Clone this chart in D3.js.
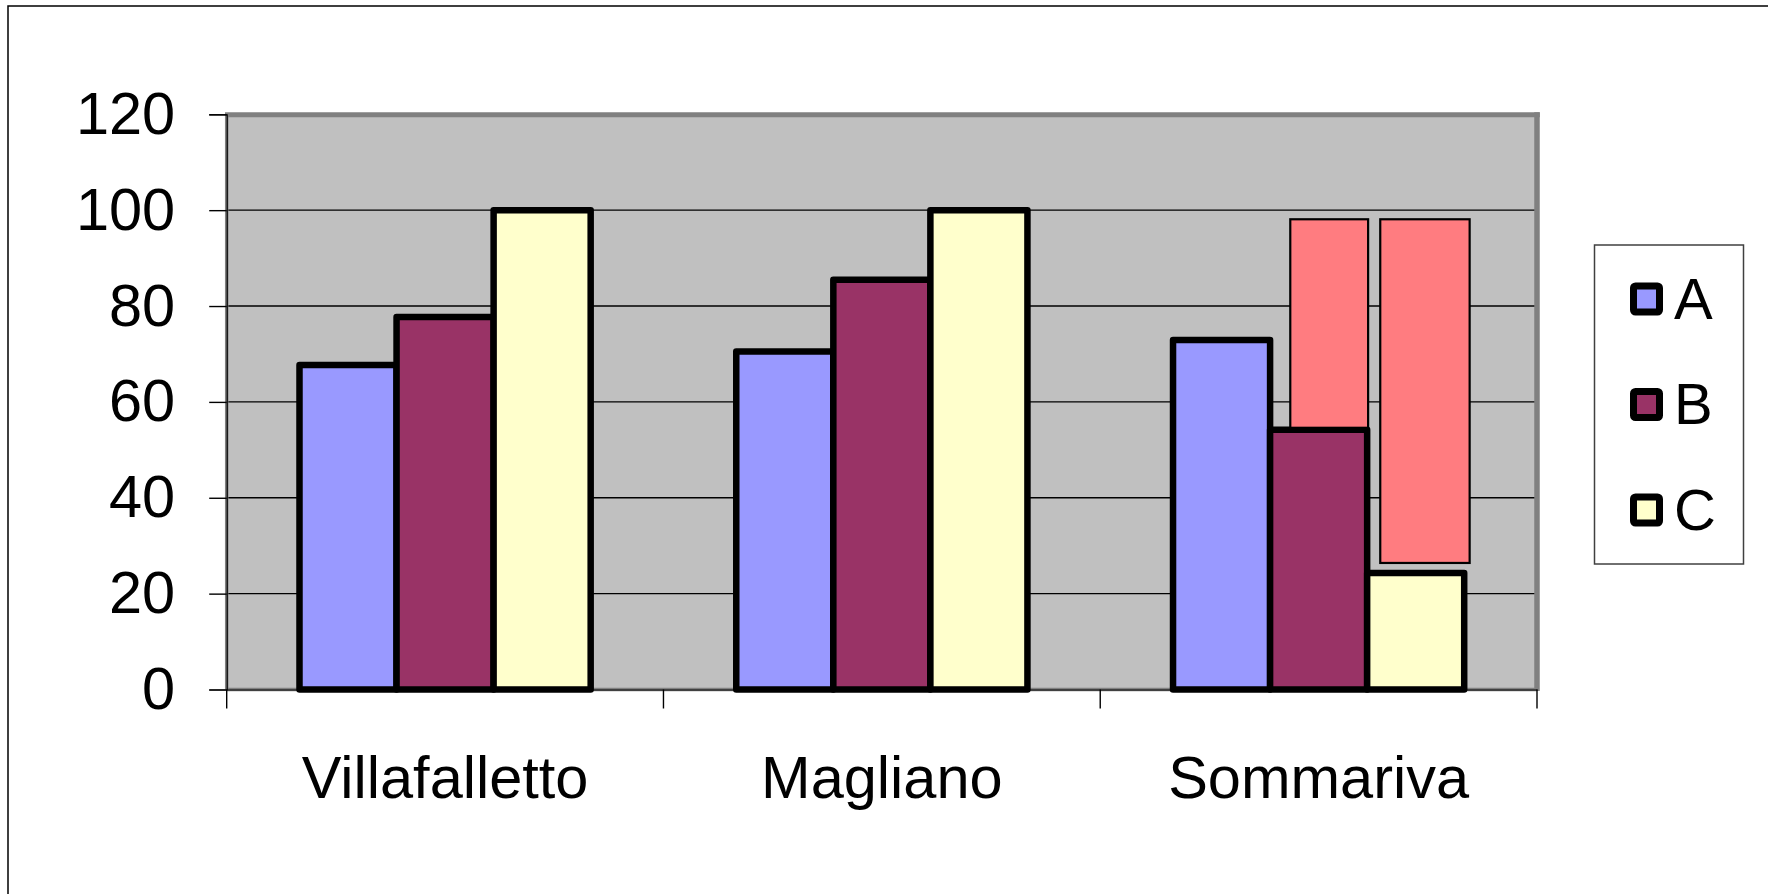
<!DOCTYPE html>
<html>
<head>
<meta charset="utf-8">
<script src="https://cdn.jsdelivr.net/npm/d3@7"></script>
<style>
  body { margin: 0; background: #fff; }
  svg { display: block; font-family: "Liberation Sans", Arial, sans-serif; }
</style>
</head>
<body>
<div id="chart"></div>
<script>
// chart data
var categories = ["Villafalletto", "Magliano", "Sommariva"];
var seriesNames = ["A", "B", "C"];
var valuesA = [67.7, 70.5, 72.9];
var valuesB = [77.7, 85.5, 54.2];
var valuesC = [100, 100, 24.3];
var yTicks = [0, 20, 40, 60, 80, 100, 120];

// highlighted ranges drawn over the Sommariva group
var boxCategory = ["Sommariva", "Sommariva"];
var boxSeries = ["B", "C"];
var boxLow = [54.6, 26.4];
var boxHigh = [98.1, 98.1];

var colors = { A: "#9999FF", B: "#993366", C: "#FFFFCC" };

// page size and plot box
var W = 1768, H = 894;
var plot = { left: 226.7, right: 1537, top: 114.3, bottom: 689.5 };

var svg = d3.select("#chart").append("svg")
    .attr("width", W)
    .attr("height", H);

// outer chart frame (right and bottom edges fall outside the picture)
svg.append("rect")
   .attr("x", 8).attr("y", 6)
   .attr("width", W + 20).attr("height", H + 20)
   .attr("fill", "#fff")
   .attr("stroke", "#000")
   .attr("stroke-width", 1.5);

// scales
var x0 = d3.scaleBand().domain(categories).range([plot.left, plot.right]);
var bw = x0.bandwidth();
var x1 = d3.scaleBand().domain(seriesNames).range([bw / 6, bw * 5 / 6]);
var y = d3.scaleLinear().domain([0, 120]).range([plot.bottom, plot.top]);

// plot area background
svg.append("rect")
   .attr("x", plot.left).attr("y", plot.top)
   .attr("width", plot.right - plot.left)
   .attr("height", plot.bottom - plot.top)
   .attr("fill", "#C0C0C0");

// gridlines
svg.append("g")
   .selectAll("line")
   .data(yTicks.filter(function(d) { return d > 0 && d < 120; }))
   .enter().append("line")
   .attr("x1", plot.left).attr("x2", plot.right)
   .attr("y1", function(d) { return y(d); })
   .attr("y2", function(d) { return y(d); })
   .attr("stroke", "#000")
   .attr("stroke-width", 1.4);

// plot border: thin gray on left/bottom, heavier on top/right
svg.append("line")
   .attr("x1", plot.left).attr("x2", plot.left)
   .attr("y1", plot.top).attr("y2", plot.bottom)
   .attr("stroke", "#808080").attr("stroke-width", 3.5);
svg.append("line")
   .attr("x1", plot.left).attr("x2", plot.right)
   .attr("y1", plot.bottom).attr("y2", plot.bottom)
   .attr("stroke", "#808080").attr("stroke-width", 3.5);
svg.append("line")
   .attr("x1", plot.left - 1.7).attr("x2", plot.right + 2.8)
   .attr("y1", plot.top + 0.4).attr("y2", plot.top + 0.4)
   .attr("stroke", "#808080").attr("stroke-width", 5);
svg.append("line")
   .attr("x1", plot.right).attr("x2", plot.right)
   .attr("y1", plot.top - 2).attr("y2", plot.bottom + 1.5)
   .attr("stroke", "#808080").attr("stroke-width", 5.5);

// y axis
var yAxis = svg.append("g")
   .attr("transform", "translate(" + plot.left + ",0)")
   .call(d3.axisLeft(y).tickValues(yTicks).tickSize(17.5).tickPadding(34));
yAxis.select(".domain").attr("stroke", "#000").attr("stroke-width", 1.2);
yAxis.selectAll(".tick line").attr("stroke", "#000").attr("stroke-width", 1.4);
yAxis.selectAll("text")
     .attr("font-size", 59.5)
     .attr("font-family", "'Liberation Sans', Arial, sans-serif")
     .attr("fill", "#000");

// x axis: labels at band centers, ticks at band edges
var xAxis = svg.append("g")
   .attr("transform", "translate(0," + plot.bottom + ")")
   .call(d3.axisBottom(x0).tickSize(0).tickPadding(66));
xAxis.select(".domain").attr("stroke", "#000").attr("stroke-width", 1.2);
xAxis.selectAll("text")
     .attr("font-size", 59.5)
     .attr("font-family", "'Liberation Sans', Arial, sans-serif")
     .attr("fill", "#000");

var edges = categories.map(function(c) { return x0(c); }).concat([x0.range()[1]]);
svg.append("g")
   .selectAll("line")
   .data(edges)
   .enter().append("line")
   .attr("x1", function(d) { return d; })
   .attr("x2", function(d) { return d; })
   .attr("y1", plot.bottom)
   .attr("y2", plot.bottom + 19)
   .attr("stroke", "#000")
   .attr("stroke-width", 1.4);

// bars
var bars = [];
categories.forEach(function(c, i) {
  bars.push({ cat: c, key: "A", value: valuesA[i] });
  bars.push({ cat: c, key: "B", value: valuesB[i] });
  bars.push({ cat: c, key: "C", value: valuesC[i] });
});

svg.append("g")
   .selectAll("rect")
   .data(bars)
   .enter().append("rect")
   .attr("x", function(d) { return x0(d.cat) + x1(d.key); })
   .attr("width", x1.bandwidth())
   .attr("y", function(d) { return y(d.value); })
   .attr("height", function(d) { return y(0) - y(d.value); })
   .attr("fill", function(d) { return colors[d.key]; })
   .attr("stroke", "#000")
   .attr("stroke-width", 6.5)
   .attr("stroke-linejoin", "round");

// red overlay boxes (inset within / past their bar, as drawn on the original)
var boxInset = { B: [0.208, 1.01], C: [0.135, 1.056] };
var boxes = boxSeries.map(function(s, i) {
  return { cat: boxCategory[i], key: s, lo: boxLow[i], hi: boxHigh[i] };
});
svg.append("g")
   .selectAll("rect")
   .data(boxes)
   .enter().append("rect")
   .attr("x", function(d) { return x0(d.cat) + x1(d.key) + boxInset[d.key][0] * x1.bandwidth(); })
   .attr("width", function(d) { return (boxInset[d.key][1] - boxInset[d.key][0]) * x1.bandwidth(); })
   .attr("y", function(d) { return y(d.hi); })
   .attr("height", function(d) { return y(d.lo) - y(d.hi); })
   .attr("fill", "#FF7C80")
   .attr("stroke", "#000")
   .attr("stroke-width", 2.2);

// legend
var legend = svg.append("g");
legend.append("rect")
   .attr("x", 1594.5).attr("y", 245)
   .attr("width", 149).attr("height", 319)
   .attr("fill", "#fff")
   .attr("stroke", "#404040")
   .attr("stroke-width", 1.5);

var rowY = d3.scalePoint().domain(seriesNames).range([299, 510]);
var items = legend.selectAll(".item")
   .data(seriesNames)
   .enter().append("g")
   .attr("class", "item")
   .attr("transform", function(d) { return "translate(0," + rowY(d) + ")"; });
items.append("rect")
   .attr("x", 1633.5).attr("y", -13)
   .attr("width", 26).attr("height", 26)
   .attr("rx", 2)
   .attr("fill", function(d) { return colors[d]; })
   .attr("stroke", "#000")
   .attr("stroke-width", 7);
items.append("text")
   .attr("x", 1674)
   .attr("y", 19.5)
   .attr("font-size", 58)
   .attr("fill", "#000")
   .text(function(d) { return d; });
</script>
</body>
</html>
